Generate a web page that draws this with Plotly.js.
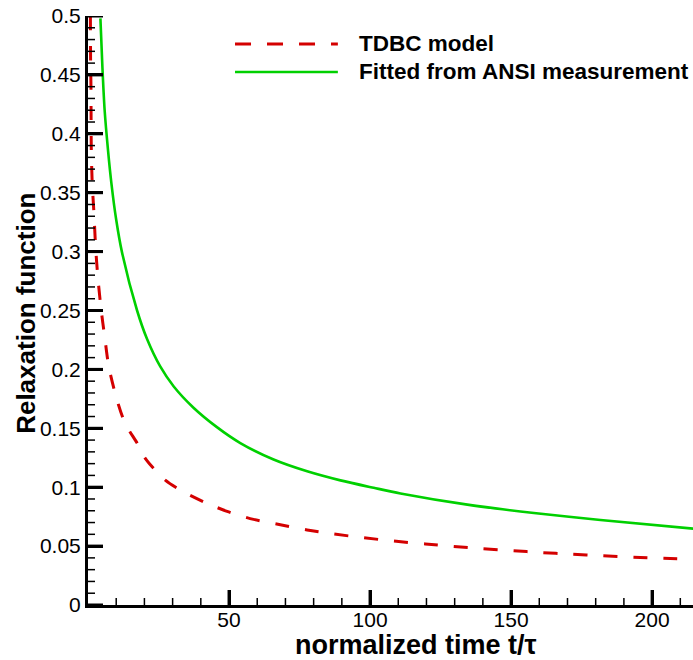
<!DOCTYPE html>
<html>
<head>
<meta charset="utf-8">
<script src="https://cdn.plot.ly/plotly-3.0.1.min.js"></script>
<style>html,body{margin:0;padding:0;background:#fff;}#chart{width:693px;height:660px;}</style>
</head>
<body>
<div id="chart"></div>
<script>
// TDBC model (red dashed)
const tdbcT = [0.85, 0.93, 1.05, 1.17, 1.5, 2.1, 2.7, 3.5, 4.7, 5.9, 7.4, 10.3, 13.2, 17.4, 20.3, 27.4, 33.9, 42.2, 49.9, 58.7, 68.2, 77.7, 87.1, 97.7, 108.4, 119.6, 129.6, 139.7, 150.8, 160.4, 171, 182.3, 193.4, 204, 214.5];
const tdbcY = [0.5, 0.46, 0.44, 0.386, 0.358, 0.333, 0.304, 0.278, 0.25, 0.228, 0.202, 0.174, 0.154, 0.1375, 0.1245, 0.106, 0.096, 0.0863, 0.079, 0.0727, 0.0682, 0.0637, 0.0603, 0.0571, 0.0543, 0.0518, 0.0497, 0.0478, 0.0461, 0.0446, 0.0432, 0.0419, 0.0406, 0.0396, 0.0388];
// Fitted from ANSI measurement (green solid)
const ansiT = [4.4, 5.1, 5.9, 7.1, 8.3, 10.0, 12.0, 17.4, 20.9, 25.6, 30.4, 37.4, 45.7, 54.0, 65.8, 77.7, 89.5, 101.3, 110.8, 134.5, 158.1, 181.7, 214.6];
const ansiY = [0.498, 0.457, 0.42, 0.386, 0.358, 0.327, 0.30, 0.25, 0.226, 0.2025, 0.1855, 0.1675, 0.151, 0.1375, 0.1235, 0.1135, 0.1058, 0.0995, 0.0947, 0.0852, 0.0781, 0.0722, 0.0648];

const seriesNames = ["TDBC model", "Fitted from ANSI measurement"];
const xTickVals = [50, 100, 150, 200];
const xMinorVals = [10,20,30,40,60,70,80,90,110,120,130,140,160,170,180,190,210];
const yTickVals = [0, 0.05, 0.1, 0.15, 0.2, 0.25, 0.3, 0.35, 0.4, 0.45, 0.5];
const yTickText = ["0", "0.05", "0.1", "0.15", "0.2", "0.25", "0.3", "0.35", "0.4", "0.45", "0.5"];
const yMinorVals = [];
for (let i = 1; i < 50; i++) { if (i % 5 !== 0) yMinorVals.push(i / 100); }
const xTitle = "normalized time t/τ";
const yTitle = "Relaxation function";

const RED = "rgb(212,0,0)";
const GREEN = "rgb(0,208,0)";
const FONT = "Liberation Sans, Arial, sans-serif";
const XR = [0, 214.5], YR = [0, 0.5];

const traces = [
  {x: tdbcT, y: tdbcY, mode: "lines", name: seriesNames[0],
   line: {color: RED, width: 3, dash: "14px,16px", shape: "spline", smoothing: 0.8}},
  {x: ansiT, y: ansiY, mode: "lines", name: seriesNames[1],
   line: {color: GREEN, width: 2.6, shape: "spline", smoothing: 0.8}}
];

// tick marks drawn as axis-referenced shapes (length in pixels)
function xTick(v, len, w) {
  return {type: "line", xref: "x", yref: "y", x0: v, x1: v, ysizemode: "pixel", yanchor: 0, y0: 0, y1: len,
          line: {color: "#000", width: w}, layer: "above"};
}
function yTick(v, len, w) {
  return {type: "line", xref: "x", yref: "y", y0: v, y1: v, xsizemode: "pixel", xanchor: 0, x0: 0, x1: len,
          line: {color: "#000", width: w}, layer: "above"};
}
const tickShapes = []
  .concat(xTickVals.map(v => xTick(v, 15, 3)))
  .concat(xMinorVals.map(v => xTick(v, 7, 1.5)))
  .concat(yTickVals.map(v => yTick(v, 15, 3)))
  .concat(yMinorVals.map(v => yTick(v, 7, 1.5)));

const layout = {
  width: 693, height: 660,
  margin: {l: 88, r: 0, t: 16, b: 55},
  paper_bgcolor: "#fff", plot_bgcolor: "#fff",
  showlegend: false,
  font: {family: FONT, color: "#000", size: 21},
  xaxis: {
    range: XR, showgrid: false, zeroline: false,
    showline: true, linewidth: 3, linecolor: "#000",
    ticks: "inside", ticklen: 15, tickwidth: 3, tickcolor: "#000",
    tickmode: "array", tickvals: xTickVals, ticklabelstandoff: -6,
    tickfont: {family: FONT, size: 21, color: "#000"}
  },
  yaxis: {
    range: YR, showgrid: false, zeroline: false,
    showline: true, linewidth: 3, linecolor: "#000",
    ticks: "inside", ticklen: 15, tickwidth: 3, tickcolor: "#000",
    tickmode: "array", tickvals: yTickVals, ticktext: yTickText,
    tickfont: {family: FONT, size: 21, color: "#000"}
  },
  shapes: tickShapes.concat([
    {type: "line", xref: "paper", yref: "paper", x0: 0.243, x1: 0.413, y0: 0.9525, y1: 0.9525,
     line: {color: RED, width: 3, dash: "16px,16px"}},
    {type: "line", xref: "paper", yref: "paper", x0: 0.243, x1: 0.413, y0: 0.905, y1: 0.905,
     line: {color: GREEN, width: 2.6}}
  ]),
  annotations: [
    {xref: "paper", yref: "paper", x: 0.4446, y: 0.9525, xanchor: "left", yanchor: "middle",
     text: "<b>" + seriesNames[0] + "</b>", showarrow: false, font: {family: FONT, size: 22.5, color: "#000"}},
    {xref: "paper", yref: "paper", x: 0.4446, y: 0.905, xanchor: "left", yanchor: "middle",
     text: "<b>" + seriesNames[1] + "</b>", showarrow: false, font: {family: FONT, size: 22.5, color: "#000"}},
    {xref: "paper", yref: "paper", x: 0.542, y: -0.068, xanchor: "center", yanchor: "middle",
     text: "<b>" + xTitle + "</b>", showarrow: false, font: {family: FONT, size: 27, color: "#000"}},
    {xref: "paper", yref: "paper", x: -0.1025, y: 0.496, xanchor: "center", yanchor: "middle", textangle: -90,
     text: "<b>" + yTitle + "</b>", showarrow: false, font: {family: FONT, size: 26, color: "#000"}}
  ]
};

Plotly.newPlot("chart", traces, layout, {displayModeBar: false});
</script>
</body>
</html>
